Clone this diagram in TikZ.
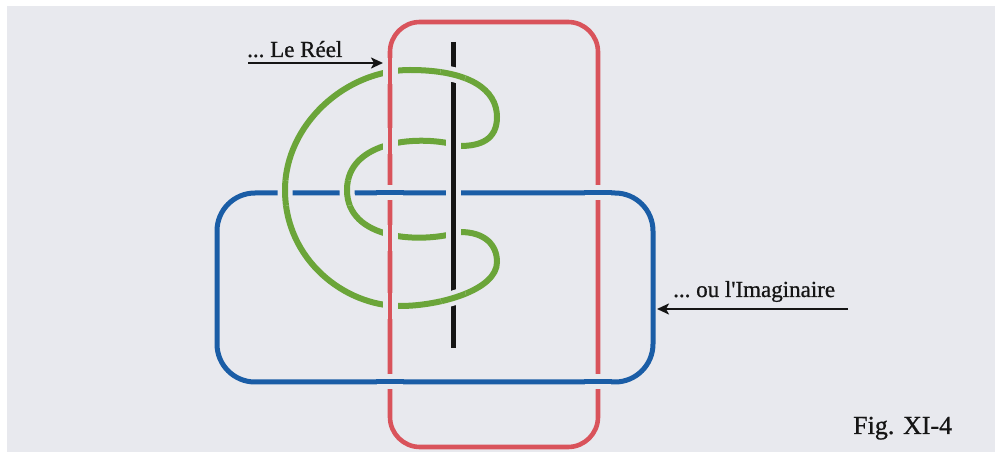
\documentclass[tikz,border=0pt]{standalone}
\usepackage{fontspec}
\setmainfont{Liberation Serif}[FakeBold=0.8]
\usetikzlibrary{arrows.meta}
\definecolor{bgc}{HTML}{E8E9EE}
\definecolor{redc}{HTML}{D9535B}
\definecolor{bluec}{HTML}{1A5DA6}
\definecolor{greenc}{HTML}{6BA539}
\definecolor{blackc}{HTML}{151515}
\begin{document}
\begin{tikzpicture}[x=1pt,y=-1pt,
  redl/.style={draw=redc, line width=4.6pt},
  bluel/.style={draw=bluec, line width=5pt},
  greenl/.style={draw=greenc, line width=6pt},
  blackl/.style={draw=blackc, line width=5pt},
  halo/.style={draw=bgc, line width=15pt},
  lbl/.style={inner sep=0pt, anchor=base west, text=blackc, font=\fontsize{23}{27}\selectfont},
  figlbl/.style={inner sep=0pt, anchor=base west, text=blackc, font=\fontsize{26}{30}\selectfont},
  arr/.style={draw=blackc, line width=2.8pt, -{Stealth[length=12pt,width=11pt,inset=3pt]}}
]
\useasboundingbox (0,0) rectangle (997,462);
\fill[bgc] (7,6) rectangle (995,452);
\def\greenpath{(410,70) .. controls (470,70) and (497,90) .. (497,117)
  .. controls (497,140) and (480,146) .. (460,146)
  .. controls (420,134) and (347,140) .. (347,190)
  .. controls (347,240) and (420,244) .. (460,232)
  .. controls (485,232) and (497,245) .. (497,262)
  .. controls (497,290) and (440,306) .. (400,306)
  .. controls (345,306) and (285,260) .. (285,190)
  .. controls (285,125) and (345,70) .. (410,70) -- cycle}
% base strands
\draw[redl, rounded corners=30pt] (390,22) rectangle (598,447);
\draw[bluel, rounded corners=38pt] (217,193) rectangle (653,382);
\draw[greenl] \greenpath;
\draw[blackl] (453,42) -- (453,348);
% red over green
\foreach \yy in {71,141,238,306}{
  \draw[halo] (390,\yy-13) -- (390,\yy+13);
  \draw[redl] (390,\yy-14) -- (390,\yy+14);
}
% blue over red
\foreach \xx/\yy in {390/193,598/193,390/382,598/382}{
  \draw[halo] (\xx-13,\yy) -- (\xx+13,\yy);
  \draw[bluel] (\xx-14,\yy) -- (\xx+14,\yy);
}
% black over blue and green
\foreach \yy in {146,193,233}{
  \draw[halo] (453,\yy-13) -- (453,\yy+13);
  \draw[blackl] (453,\yy-14) -- (453,\yy+14);
}
% green over blue and black
\foreach \xx/\yy in {285/193,347/193,453/74,453/296}{
  \begin{scope}
    \clip (\xx,\yy) circle (13pt);
    \draw[halo] \greenpath;
    \draw[greenl] \greenpath;
  \end{scope}
}
% labels
\node[lbl] (reel) at (247,57) {...\ Le Réel};
\coordinate (reelS) at (248,63);
\coordinate (reelE) at (383,63);
\draw[arr] (reelS) -- (reelE);
\node[lbl] (imag) at (673,297) {...\ ou l\textquotesingle Imaginaire};
\coordinate (imagS) at (848,309);
\coordinate (imagE) at (657,309);
\draw[arr] (imagS) -- (imagE);
\node[figlbl] (fig) at (853,434) {Fig. XI-4};
\end{tikzpicture}
\end{document}
